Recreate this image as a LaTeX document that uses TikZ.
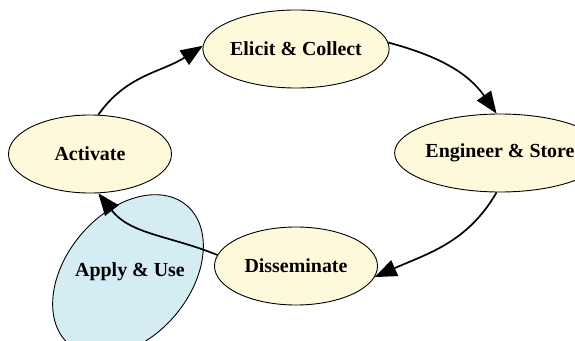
\documentclass[tikz,border=0pt]{standalone}
\usepackage{fontspec}
\setmainfont{Liberation Serif}
\usetikzlibrary{shapes.geometric,arrows.meta}
\definecolor{stagefill}{RGB}{255,249,219}
\definecolor{usefill}{RGB}{212,237,243}

\begin{document}
\begin{tikzpicture}[x=1bp, y=1bp,
    stage/.style={draw, ellipse, fill=stagefill, line width=0.9bp,
      minimum width=163bp, minimum height=78bp, inner sep=0pt,
      font=\bfseries\fontsize{20}{24}\selectfont},
    flow/.style={line width=1.7bp, -{Triangle[length=22bp,width=17bp]}}]
    \useasboundingbox (0,0) rectangle (575,340);
    \clip (0,0) rectangle (575,340);
    % the blue one sits under the return arrow
    \node[draw, ellipse, fill=usefill, line width=0.9bp, minimum width=182bp,
      minimum height=124bp, rotate=50] (use) at (128,65) {};
    \node[font=\bfseries\fontsize{20}{24}\selectfont] (uselabel) at (130,68) {Apply \& Use};
    \node[stage] (elicit) at (296,291) {Elicit \& Collect};
    \node[stage] (engineer) at (500,187) {Engineer \& Store};
    \node[stage] (activate) at (90,186) {Activate};
    \node[stage] (disseminate) at (296,74) {Disseminate};
\begin{scope}[flow]
    \draw (activate.78) to[out=55, in=213] (elicit.178);
    \draw (elicit.4) to[out=-15, in=125] (engineer.95);
    \draw (engineer.-95) to[out=-120, in=24] (disseminate.-8);
    \draw (disseminate.172) to[out=158, in=-52] (activate.-78);
\end{scope}
\end{tikzpicture}
\end{document}
